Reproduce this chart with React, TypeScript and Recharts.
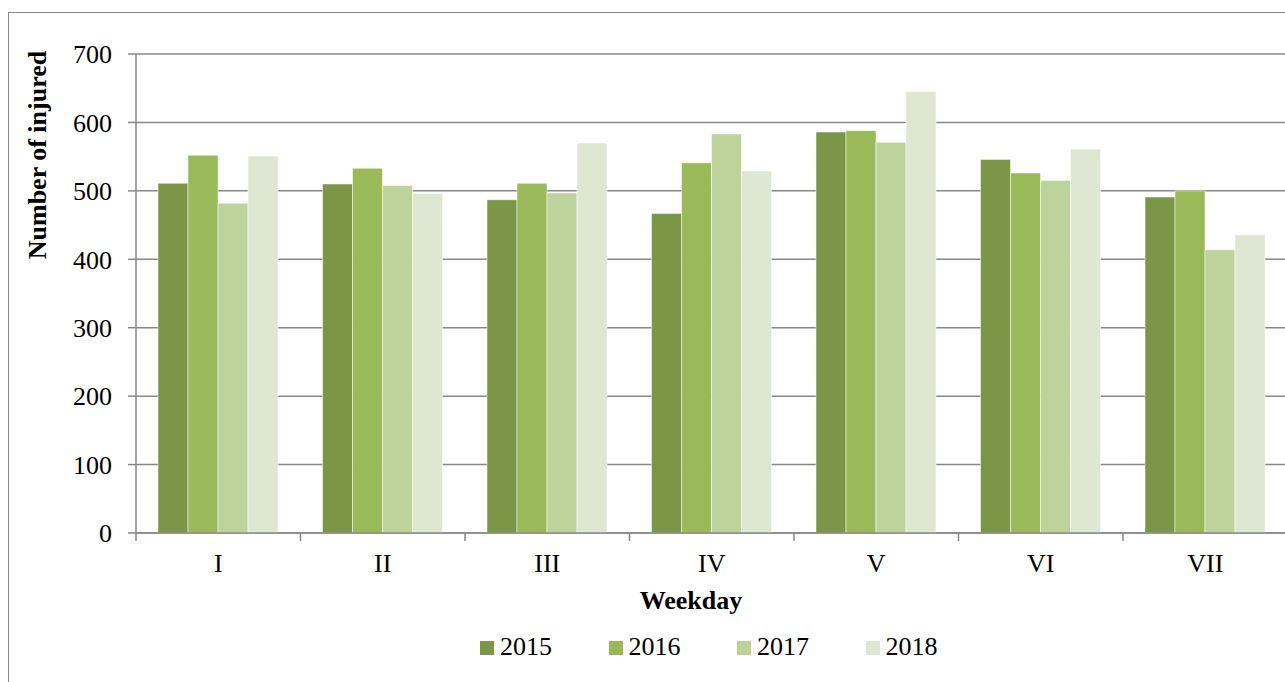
import React from 'react';
import { BarChart, Bar, XAxis, YAxis, CartesianGrid } from 'recharts';

const CATEGORIES = ['I', 'II', 'III', 'IV', 'V', 'VI', 'VII'];
const Y2015 = [511, 510, 487, 467, 586, 546, 491];
const Y2016 = [552, 533, 511, 541, 588, 526, 500];
const Y2017 = [482, 508, 497, 583, 571, 515, 414];
const Y2018 = [551, 496, 570, 529, 645, 561, 436];
const Y_TICKS = [0, 100, 200, 300, 400, 500, 600, 700];
const SERIES = ['2015', '2016', '2017', '2018'];
const COLORS = ['#7A9646', '#9AB959', '#BED39C', '#DEE7D2'];

const data = CATEGORIES.map((c, i) => ({
  day: c,
  '2015': Y2015[i],
  '2016': Y2016[i],
  '2017': Y2017[i],
  '2018': Y2018[i],
}));

const FONT = '"Liberation Serif", "Times New Roman", serif';
const AXIS_COLOR = '#888888';
const TICK_SIZE = 8;

function XTick(props: any) {
  const { x, y, payload, width, visibleTicksCount, index } = props;
  const half =
    payload && payload.offset ? payload.offset : width / (visibleTicksCount || CATEGORIES.length) / 2;
  const axisY = y - TICK_SIZE;
  const isLast = index === CATEGORIES.length - 1;
  return (
    <g>
      <line x1={x - half} x2={x - half} y1={axisY} y2={axisY + TICK_SIZE} stroke={AXIS_COLOR} strokeWidth={1.5} />
      {isLast && (
        <line x1={x + half} x2={x + half} y1={axisY} y2={axisY + TICK_SIZE} stroke={AXIS_COLOR} strokeWidth={1.5} />
      )}
      <text x={x} y={axisY + 39} textAnchor="middle" fill="#000" fontSize={26} fontFamily={FONT}>
        {payload.value}
      </text>
    </g>
  );
}

export default function App() {
  return (
    <div
      style={{
        position: 'absolute',
        left: 0,
        top: 0,
        width: 1285,
        height: 682,
        overflow: 'hidden',
        background: '#fff',
        fontFamily: FONT,
      }}
    >
      <div
        style={{
          position: 'absolute',
          left: 8,
          top: 12,
          width: 1400,
          height: 800,
          border: `1.5px solid ${AXIS_COLOR}`,
        }}
      />
      <div style={{ position: 'absolute', left: 0, top: 0 }}>
        <BarChart
          width={1300}
          height={682}
          data={data}
          margin={{ top: 54, right: 12.5, bottom: 109, left: 0 }}
          barCategoryGap={22}
          barGap={0}
        >
          <CartesianGrid vertical={false} stroke={AXIS_COLOR} strokeWidth={1.5} />
          <XAxis
            dataKey="day"
            height={40}
            interval={0}
            tickLine={false}
            tickSize={TICK_SIZE}
            tickMargin={0}
            axisLine={{ stroke: AXIS_COLOR, strokeWidth: 1.5 }}
            tick={<XTick />}
          />
          <YAxis
            width={136}
            domain={[0, 700]}
            ticks={Y_TICKS}
            interval={0}
            tickSize={TICK_SIZE}
            tickMargin={16}
            tickLine={{ stroke: AXIS_COLOR, strokeWidth: 1.5 }}
            axisLine={{ stroke: AXIS_COLOR, strokeWidth: 1.5 }}
            tick={{ fill: '#000', fontSize: 26, fontFamily: FONT }}
          />
          {SERIES.map((s, i) => (
            <Bar
              key={s}
              dataKey={s}
              fill={COLORS[i]}
              stroke="#ffffff"
              strokeOpacity={0.5}
              strokeWidth={1}
              isAnimationActive={false}
            />
          ))}
        </BarChart>
      </div>
      <div
        style={{
          position: 'absolute',
          left: 38,
          top: 155,
          transform: 'translate(-50%, -50%) rotate(-90deg)',
          whiteSpace: 'nowrap',
          fontWeight: 'bold',
          fontSize: 26,
          lineHeight: '26px',
          color: '#000',
        }}
      >
        Number of injured
      </div>
      <div
        style={{
          position: 'absolute',
          left: 691,
          top: 601,
          transform: 'translate(-50%, -50%)',
          whiteSpace: 'nowrap',
          fontWeight: 'bold',
          fontSize: 26,
          lineHeight: '26px',
          color: '#000',
        }}
      >
        Weekday
      </div>
      <div style={{ position: 'absolute', left: 480, top: 633.5, display: 'flex' }}>
        {SERIES.map((s, i) => (
          <div key={s} style={{ width: 128.5, display: 'flex', alignItems: 'center' }}>
            <div
              style={{
                width: 14,
                height: 14,
                background: COLORS[i],
                marginRight: 6,
                position: 'relative',
                top: 1.5,
              }}
            />
            <span style={{ fontSize: 26, lineHeight: '26px', color: '#000' }}>{s}</span>
          </div>
        ))}
      </div>
    </div>
  );
}
